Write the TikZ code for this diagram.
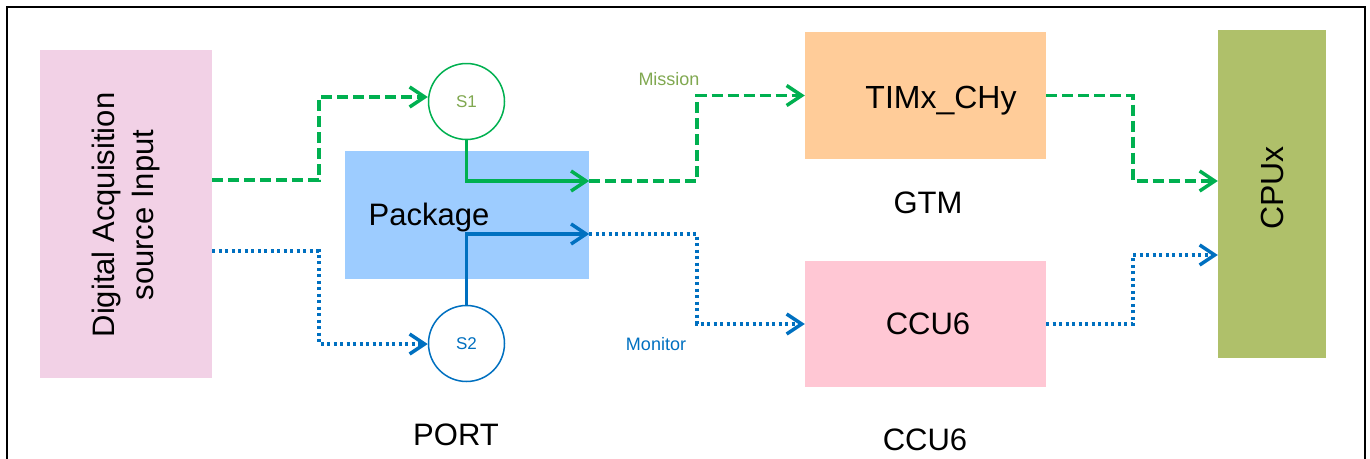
\documentclass[tikz,border=0pt]{standalone}
\usepackage{fontspec}
\setmainfont{Liberation Sans}
\usetikzlibrary{arrows.meta}
\definecolor{gline}{RGB}{0,176,80}
\definecolor{bline}{RGB}{0,112,192}
\definecolor{srcfill}{RGB}{242,209,230}
\definecolor{pkgfill}{RGB}{157,204,255}
\definecolor{timfill}{RGB}{255,204,153}
\definecolor{ccufill}{RGB}{255,199,212}
\definecolor{cpufill}{RGB}{175,192,106}
\definecolor{olive}{RGB}{128,168,80}
\tikzset{
  box/.style={draw=none, inner sep=0pt},
  sw/.style={circle, draw, line width=1.5pt, minimum size=76pt, inner sep=0pt, font=\fontsize{17}{20}\selectfont},
  tip/.style={-{Straight Barb[length=15pt,width=20pt,line width=3.5pt]}},
  gdash/.style={gline, line width=3.5pt, dash pattern=on 11pt off 5pt},
  gsolid/.style={gline, line width=3.5pt},
  bdot/.style={bline, line width=3.5pt, dash pattern=on 3pt off 3.5pt},
  bsolid/.style={bline, line width=3.5pt},
  lbl/.style={font=\fontsize{31}{36}\selectfont},
  small/.style={font=\fontsize{18}{20}\selectfont},
}
\begin{document}
\begin{tikzpicture}[x=1pt,y=-1pt]
\useasboundingbox (0,0) rectangle (1370,458);
\begin{scope}
\clip (0,0) rectangle (1370,458);
\draw[line width=2pt] (7,7) rectangle (1365,480);
\end{scope}

\node[box, fill=srcfill, minimum width=172pt, minimum height=328pt] (src) at (126,214) {};
\node[rotate=90, align=center, font=\fontsize{31}{39}\selectfont] (srctxt) at (126,215) {Digital Acquisition\\source Input};

\node[box, fill=pkgfill, minimum width=244pt, minimum height=128pt] (pkg) at (467,215) {};
\node[lbl] (pkgtxt) at (429,217) {Package};

\node[sw, draw=gline, text=olive, fill=white] (s1) at (466.5,101.5) {S1};
\node[sw, draw=bline, text=bline, fill=white] (s2) at (466.5,343.5) {S2};

\node[box, fill=timfill, minimum width=241pt, minimum height=127pt] (tim) at (925.5,95.5) {};
\node[lbl, font=\fontsize{32}{36}\selectfont] (timtxt) at (941,101) {TIMx\_CHy};
\node[box, fill=ccufill, minimum width=241pt, minimum height=126pt] (ccu) at (925.5,324) {};
\node[lbl] (ccutxt) at (928,324) {CCU6};
\node[box, fill=cpufill, minimum width=108pt, minimum height=328pt] (cpu) at (1272,194) {};
\node[rotate=90, font=\fontsize{32}{36}\selectfont] (cputxt) at (1272,188) {CPUx};

\node[lbl] (gtm) at (928,203) {GTM};
\node[lbl] (port) at (456,435) {PORT};
\node[lbl] (ccu6b) at (925,440) {CCU6};
\node[small, text=olive] (mission) at (669,79) {Mission};
\node[small, text=bline] (monitor) at (656,344) {Monitor};

% green path
\draw[gdash, tip] (src.east|-0,180) -- (319,180) -- (319,97) -- (s1.west|-0,97);
\draw[gsolid, tip] (s1.south) |- (pkg.east|-0,181);
\draw[gdash, tip] (pkg.east|-0,181) -- (697,181) -- (697,95.5) -- (tim.west);
\draw[gdash, tip] (tim.east) -- (1133,95.5) -- (1133,181) -- (cpu.west|-0,181);

% blue path
\draw[bdot, tip] (src.east|-0,251) -- (319,251) -- (319,344) -- (s2.west|-0,344);
\draw[bsolid, tip] (s2.north) |- (pkg.east|-0,234);
\draw[bdot, tip] (pkg.east|-0,234) -- (697,234) -- (697,324) -- (ccu.west);
\draw[bdot, tip] (ccu.east) -- (1133,324) -- (1133,255) -- (cpu.west|-0,255);
\end{tikzpicture}
\end{document}
